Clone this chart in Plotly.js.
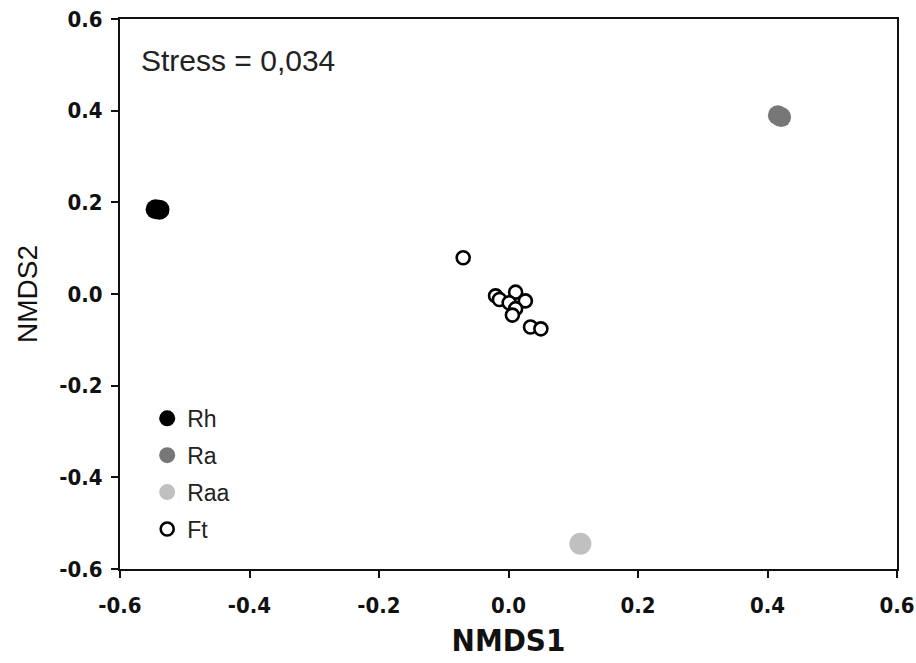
<!DOCTYPE html>
<html>
<head>
<meta charset="utf-8">
<script src="https://cdn.plot.ly/plotly-3.0.1.min.js"></script>
<style>html,body{margin:0;padding:0;background:#fff;}#chart{width:916px;height:663px;}</style>
</head>
<body>
<div id="chart"></div>
<script>
// Data
const rhX = [-0.545, -0.539];
const rhY = [0.185, 0.184];
const raX = [0.416, 0.421];
const raY = [0.390, 0.386];
const raaX = [0.111];
const raaY = [-0.545];
const ftX = [-0.070, -0.020, -0.014, 0.011, 0.026, 0.001, 0.011, 0.006, 0.034, 0.050];
const ftY = [0.079, -0.004, -0.012, 0.004, -0.015, -0.019, -0.032, -0.046, -0.072, -0.076];
const tickVals = [-0.6, -0.4, -0.2, 0.0, 0.2, 0.4, 0.6];
const tickText = ["-0.6", "-0.4", "-0.2", "0.0", "0.2", "0.4", "0.6"];
const stressText = "Stress = 0,034";

const tickFont = {family: "'DejaVu Sans Condensed', 'DejaVu Sans', sans-serif", size: 22, color: '#111', weight: 'bold'};

const traces = [
  {x: rhX, y: rhY, name: 'Rh', legendgroup: 'a', type: 'scatter', mode: 'markers',
   marker: {color: '#000000', size: 20, line: {width: 0}}},
  {x: raX, y: raY, name: 'Ra', legendgroup: 'b', type: 'scatter', mode: 'markers',
   marker: {color: '#777777', size: 20, line: {width: 0}}},
  {x: raaX, y: raaY, name: 'Raa', legendgroup: 'c', type: 'scatter', mode: 'markers',
   marker: {color: '#c0c0c0', size: 22, line: {width: 0}}},
  {x: ftX, y: ftY, name: 'Ft', legendgroup: 'd', type: 'scatter', mode: 'markers',
   marker: {color: '#ffffff', size: 13, line: {width: 2.6, color: '#000000'}}}
];

const layout = {
  width: 916, height: 663,
  margin: {l: 120, r: 19, t: 19, b: 94},
  paper_bgcolor: '#ffffff', plot_bgcolor: '#ffffff',
  showlegend: true,
  legend: {x: 0.035, y: 0.313, xanchor: 'left', yanchor: 'top', bgcolor: 'rgba(0,0,0,0)',
           font: {family: 'Arial, Liberation Sans, sans-serif', size: 23, color: '#222'},
           tracegroupgap: 4, itemsizing: 'trace'},
  xaxis: {range: [-0.6, 0.6], tickvals: tickVals, ticktext: tickText, showgrid: false, zeroline: false,
          showline: true, linecolor: '#111', linewidth: 2, mirror: true,
          ticks: 'outside', ticklen: 7, tickwidth: 2, tickcolor: '#111', ticklabelstandoff: 9,
          tickfont: tickFont,
          title: {text: 'NMDS1', standoff: 12,
                  font: {family: "'DejaVu Sans Condensed', 'DejaVu Sans', sans-serif", size: 31, color: '#111', weight: 'bold'}}},
  yaxis: {range: [-0.6, 0.6], tickvals: tickVals, ticktext: tickText, showgrid: false, zeroline: false,
          showline: true, linecolor: '#111', linewidth: 2, mirror: true,
          ticks: 'outside', ticklen: 7, tickwidth: 2, tickcolor: '#111', ticklabelstandoff: 4,
          tickfont: tickFont,
          title: {text: 'NMDS2', standoff: 14,
                  font: {family: 'Arial, Liberation Sans, sans-serif', size: 28, color: '#111'}}},
  annotations: [{xref: 'paper', yref: 'paper', x: 0.024, y: 0.925, xanchor: 'left', yanchor: 'middle',
                 text: stressText, showarrow: false,
                 font: {family: 'Arial, Liberation Sans, sans-serif', size: 30, color: '#222'}}]
};

Plotly.newPlot('chart', traces, layout, {displayModeBar: false, staticPlot: true});
</script>
</body>
</html>
